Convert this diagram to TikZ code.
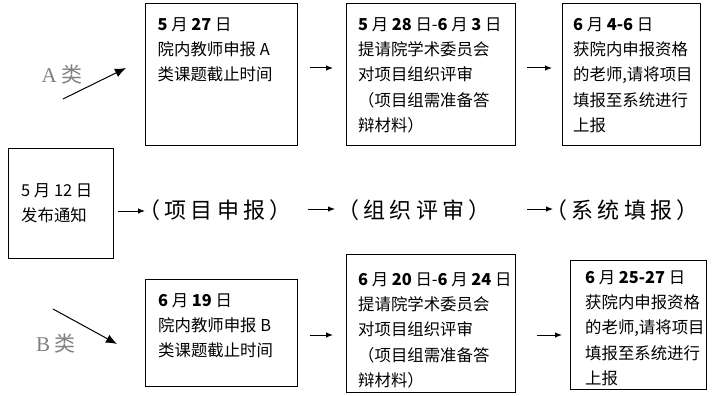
\documentclass[tikz,border=0pt]{standalone}
\usepackage{fontspec}
\setmainfont{Noto Sans CJK SC}
\newfontfamily\serifA{Liberation Serif}
\usetikzlibrary{arrows.meta,calc}
\begin{document}
\begin{tikzpicture}[x=1pt,y=-1pt,
  box/.style={draw, line width=1pt, inner sep=0pt},
  txt/.style={anchor=north west, inner sep=0pt, align=left, font=\fontsize{16.4}{25.3}\selectfont},
  mid/.style={inner sep=0pt, font=\fontsize{22}{26}\selectfont\addfontfeature{LetterSpace=20}},
  lab/.style={inner sep=0pt, text=gray, font=\fontsize{21}{24}\selectfont},
  arr/.style={-{Latex[length=7pt,width=5.5pt]}, line width=1pt},
  darr/.style={-{Latex[length=11pt,width=9pt]}, line width=1pt}]
\useasboundingbox (0,0) rectangle (728,396);

% boxes
\node[box, minimum width=152pt, minimum height=141.7pt] (A1) at (221.7,74.85) {};
\node[box, minimum width=169.7pt, minimum height=141.7pt] (A2) at (430.85,74.85) {};
\node[box, minimum width=137.7pt, minimum height=141.7pt] (A3) at (631.15,74.85) {};
\node[box, minimum width=105pt, minimum height=110pt] (L) at (60.5,203) {};
\node[box, minimum width=152pt, minimum height=107.4pt] (B1) at (221.7,333) {};
\node[box, minimum width=169.7pt, minimum height=138.7pt] (B2) at (430.85,323.35) {};
\node[box, minimum width=135.3pt, minimum height=129pt] (B3) at (638.35,324.5) {};

% box texts
\node[txt] (tA1) at (157.5,17) {\textbf{5} 月 \textbf{27} 日\\院内教师申报 A\\类课题截止时间};
\node[txt] (tA2) at (358,17) {\textbf{5} 月 \textbf{28} 日-\textbf{6} 月 \textbf{3} 日\\提请院学术委员会\\对项目组织评审\\（项目组需准备答\\辩材料）};
\node[txt] (tA3) at (573,17) {\textbf{6} 月 \textbf{4-6} 日\\获院内申报资格\\的老师,请将项目\\填报至系统进行\\上报};
\node[txt] (tL) at (21,183) {5 月 12 日\\发布通知};
\node[txt] (tB1) at (158,293) {\textbf{6} 月 \textbf{19} 日\\院内教师申报 B\\类课题截止时间};
\node[txt] (tB2) at (358,272) {\textbf{6} 月 \textbf{20} 日-\textbf{6} 月 \textbf{24} 日\\提请院学术委员会\\对项目组织评审\\（项目组需准备答\\辩材料）};
\node[txt] (tB3) at (585,270) {\textbf{6} 月 \textbf{25-27} 日\\获院内申报资格\\的老师,请将项目\\填报至系统进行\\上报};

% middle row
\node[mid] (m1) at (215,210) {（项目申报）};
\node[mid] (m2) at (414,210) {（组织评审）};
\node[mid] (m3) at (622,210) {（系统填报）};

% labels
\node[lab] (la) at (62,75) {{\serifA A} 类};
\node[lab] (lb) at (56,344) {{\serifA B} 类};

% arrow end points
\coordinate (ad0) at (63,99);   \coordinate (ad1) at (126,68);
\coordinate (a10) at (310,68);  \coordinate (a11) at (333,68);
\coordinate (a20) at (527,68);  \coordinate (a21) at (552,68);
\coordinate (m10) at (118,211); \coordinate (m11) at (145,211);
\coordinate (m20) at (308,209); \coordinate (m21) at (335,209);
\coordinate (m30) at (527,209); \coordinate (m31) at (553,209);
\coordinate (bd0) at (53,309);  \coordinate (bd1) at (117,344);
\coordinate (b10) at (310,335); \coordinate (b11) at (333,335);
\coordinate (b20) at (537,335); \coordinate (b21) at (562,335);

\draw[darr] (ad0) -- (ad1);
\draw[arr] (a10) -- (a11);
\draw[arr] (a20) -- (a21);
\draw[arr] (m10) -- (m11);
\draw[arr] (m20) -- (m21);
\draw[arr] (m30) -- (m31);
\draw[darr] (bd0) -- (bd1);
\draw[arr] (b10) -- (b11);
\draw[arr] (b20) -- (b21);
\end{tikzpicture}
\end{document}
